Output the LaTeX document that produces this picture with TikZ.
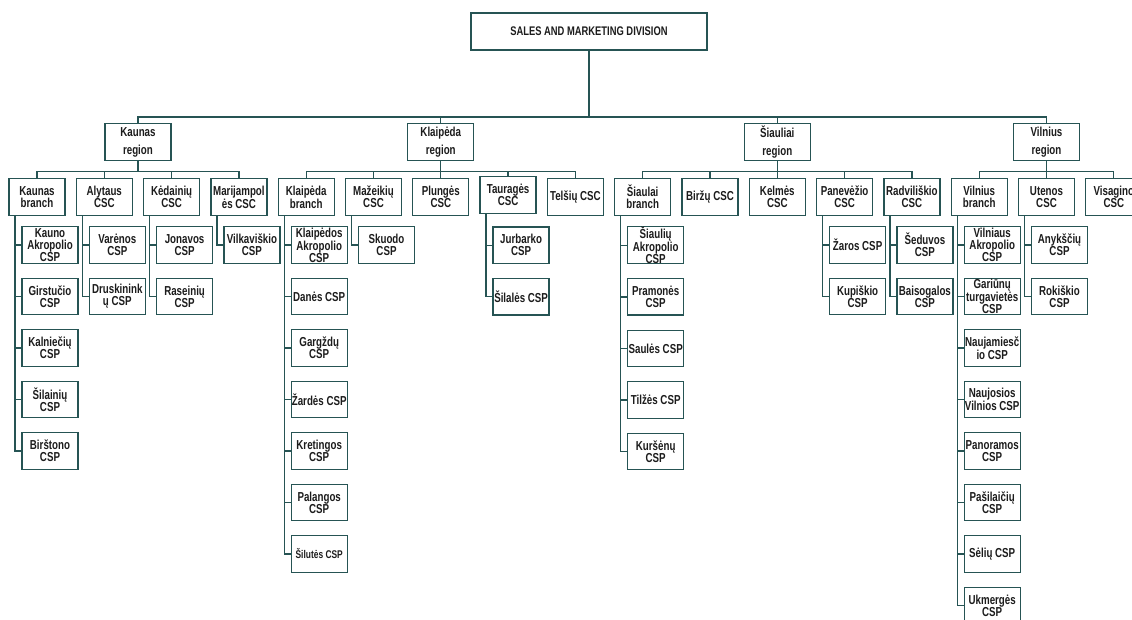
\documentclass[tikz,border=0pt]{standalone}
\usepackage{fontspec}
\setmainfont{Liberation Sans}[FakeStretch=0.75]
\usetikzlibrary{positioning}
\definecolor{linje}{RGB}{38,84,84}
\definecolor{tekst}{RGB}{28,28,28}

\begin{document}
\begin{tikzpicture}[
    node distance = 15pt and 11.3pt,
    enhet/.style = {rectangle, draw=linje, line width=1.3pt, fill=white,
      minimum width=56pt, minimum height=36.5pt, inner sep=0pt, outer sep=0pt,
      align=center, text=tekst, font=\fontsize{13}{12}\selectfont\bfseries},
    region/.style = {enhet, minimum width=66pt, minimum height=37pt,
      font=\fontsize{13}{17.5}\selectfont\bfseries},
    strek/.style = {draw=linje, line width=1.3pt},
    bus/.style = {to path={-- ++(0,-#1) -| (\tikztotarget)}},
    ned/.style = {to path={|- (\tikztotarget)}}
    ]

  \useasboundingbox (0,0) rectangle (1132pt,-619pt);

  \node[enhet, minimum width=236pt, minimum height=37pt,
    font=\fontsize{12.5}{13}\selectfont\bfseries] (sales) at (589pt,-31.5pt)
    {SALES AND MARKETING DIVISION} ;

  % second level, one row
  \node[enhet] (kb) at (37pt,-197pt) {Kaunas\\branch} ;
  \node[enhet] (aly) [right=of kb] {Alytaus\\CSC} ;
  \node[enhet] (ked) [right=of aly] {Kėdainių\\CSC} ;
  \node[enhet] (mar) [right=of ked] {Marijampol\\ės CSC} ;
  \node[enhet] (klb) [right=of mar] {Klaipėda\\branch} ;
  \node[enhet] (maz) [right=of klb] {Mažeikių\\CSC} ;
  \node[enhet] (plu) [right=of maz] {Plungės\\CSC} ;
  \node[enhet, minimum height=37pt] (tau) [right=of plu, yshift=2pt] {Tauragės\\CSC} ;
  \node[enhet] (tel) [right=of plu, xshift=67.3pt] {Telšių CSC} ;
  \node[enhet] (sb) [right=of tel] {Šiaulai\\branch} ;
  \node[enhet] (bir) [right=of sb] {Biržų CSC} ;
  \node[enhet] (kel) [right=of bir] {Kelmės\\CSC} ;
  \node[enhet] (pan) [right=of kel] {Panevėžio\\CSC} ;
  \node[enhet] (rad) [right=of pan] {Radviliškio\\CSC} ;
  \node[enhet] (vb) [right=of rad] {Vilnius\\branch} ;
  \node[enhet] (ute) [right=of vb] {Utenos\\CSC} ;
  \node[enhet] (vis) [right=of ute] {Visagino\\CSC} ;

  % regions
  \node[region] (kreg) [above=18pt of aly, xshift=33.65pt] {Kaunas\\region} ;
  \node[region] (klreg) [above=18pt of plu] {Klaipėda\\region} ;
  \node[region] (sreg) [above=18pt of kel] {Šiauliai\\region} ;
  \node[region] (vreg) [above=18pt of ute] {Vilnius\\region} ;

  % Kaunas
  \node[enhet] (kb1) [below=11.5pt of kb, xshift=13pt] {Kauno\\Akropolio\\CSP} ;
  \node[enhet] (kb2) [below=of kb1] {Girstučio\\CSP} ;
  \node[enhet] (kb3) [below=of kb2] {Kalniečių\\CSP} ;
  \node[enhet] (kb4) [below=of kb3] {Šilainių\\CSP} ;
  \node[enhet] (kb5) [below=of kb4] {Birštono\\CSP} ;
  \node[enhet] (aly1) [below=11.5pt of aly, xshift=13pt] {Varėnos\\CSP} ;
  \node[enhet] (aly2) [below=of aly1] {Druskinink\\ų CSP} ;
  \node[enhet] (ked1) [below=11.5pt of ked, xshift=13pt] {Jonavos\\CSP} ;
  \node[enhet] (ked2) [below=of ked1] {Raseinių\\CSP} ;
  \node[enhet] (mar1) [below=11.5pt of mar, xshift=13pt] {Vilkaviškio\\CSP} ;

  % Klaipeda
  \node[enhet] (klb1) [below=11.5pt of klb, xshift=13pt] {Klaipėdos\\Akropolio\\CSP} ;
  \node[enhet] (klb2) [below=of klb1] {Danės CSP} ;
  \node[enhet] (klb3) [below=of klb2] {Gargždų\\CSP} ;
  \node[enhet] (klb4) [below=of klb3] {Žardės CSP} ;
  \node[enhet] (klb5) [below=of klb4] {Kretingos\\CSP} ;
  \node[enhet] (klb6) [below=of klb5] {Palangos\\CSP} ;
  \node[enhet, font=\fontsize{11.2}{12}\selectfont\bfseries] (klb7) [below=of klb6] {Šilutės CSP} ;
  \node[enhet] (maz1) [below=11.5pt of maz, xshift=13pt] {Skuodo\\CSP} ;
  \node[enhet] (tau1) [below=13.5pt of tau, xshift=13pt] {Jurbarko\\CSP} ;
  \node[enhet] (tau2) [below=of tau1] {Šilalės CSP} ;

  % Siauliai
  \node[enhet] (sb1) [below=11.5pt of sb, xshift=13pt] {Šiaulių\\Akropolio\\CSP} ;
  \node[enhet] (sb2) [below=of sb1] {Pramonės\\CSP} ;
  \node[enhet] (sb3) [below=of sb2] {Saulės CSP} ;
  \node[enhet] (sb4) [below=of sb3] {Tilžės CSP} ;
  \node[enhet] (sb5) [below=of sb4] {Kuršėnų\\CSP} ;
  \node[enhet] (pan1) [below=11.5pt of pan, xshift=13pt] {Žaros CSP} ;
  \node[enhet] (pan2) [below=of pan1] {Kupiškio\\CSP} ;
  \node[enhet] (rad1) [below=11.5pt of rad, xshift=13pt] {Šeduvos\\CSP} ;
  \node[enhet] (rad2) [below=of rad1] {Baisogalos\\CSP} ;

  % Vilnius
  \node[enhet] (vb1) [below=11.5pt of vb, xshift=13pt] {Vilniaus\\Akropolio\\CSP} ;
  \node[enhet] (vb2) [below=of vb1] {Gariūnų\\turgavietės\\CSP} ;
  \node[enhet] (vb3) [below=of vb2] {Naujamiesč\\io CSP} ;
  \node[enhet] (vb4) [below=of vb3] {Naujosios\\Vilnios CSP} ;
  \node[enhet] (vb5) [below=of vb4] {Panoramos\\CSP} ;
  \node[enhet] (vb6) [below=of vb5] {Pašilaičių\\CSP} ;
  \node[enhet] (vb7) [below=of vb6] {Sėlių CSP} ;
  \node[enhet] (vb8) [below=of vb7] {Ukmergės\\CSP} ;
  \node[enhet] (ute1) [below=11.5pt of ute, xshift=13pt] {Anykščių\\CSP} ;
  \node[enhet] (ute2) [below=of ute1] {Rokiškio\\CSP} ;

  \draw[strek]
  (sales.south) edge[bus=67pt] (kreg.north)
  (sales.south) edge[bus=67pt] (klreg.north)
  (sales.south) edge[bus=67pt] (sreg.north)
  (sales.south) edge[bus=67pt] (vreg.north)

  (kreg.south) edge[bus=11pt] (kb.north)
  (kreg.south) edge[bus=11pt] (aly.north)
  (kreg.south) edge[bus=11pt] (ked.north)
  (kreg.south) edge[bus=11pt] (mar.north)
  (klreg.south) edge[bus=11pt] (klb.north)
  (klreg.south) edge[bus=11pt] (maz.north)
  (klreg.south) edge[bus=11pt] (plu.north)
  (klreg.south) edge[bus=11pt] (tau.north)
  (klreg.south) edge[bus=11pt] (tel.north)
  (sreg.south) edge[bus=11pt] (sb.north)
  (sreg.south) edge[bus=11pt] (bir.north)
  (sreg.south) edge[bus=11pt] (kel.north)
  (sreg.south) edge[bus=11pt] (pan.north)
  (sreg.south) edge[bus=11pt] (rad.north)
  (vreg.south) edge[bus=11pt] (vb.north)
  (vreg.south) edge[bus=11pt] (ute.north)
  (vreg.south) edge[bus=11pt] (vis.north)

  ([xshift=6pt]kb.south west) edge[ned] (kb1.west) edge[ned] (kb2.west)
    edge[ned] (kb3.west) edge[ned] (kb4.west) edge[ned] (kb5.west)
  ([xshift=6pt]aly.south west) edge[ned] (aly1.west) edge[ned] (aly2.west)
  ([xshift=6pt]ked.south west) edge[ned] (ked1.west) edge[ned] (ked2.west)
  ([xshift=6pt]mar.south west) edge[ned] (mar1.west)

  ([xshift=6pt]klb.south west) edge[ned] (klb1.west) edge[ned] (klb2.west)
    edge[ned] (klb3.west) edge[ned] (klb4.west) edge[ned] (klb5.west)
    edge[ned] (klb6.west) edge[ned] (klb7.west)
  ([xshift=6pt]maz.south west) edge[ned] (maz1.west)
  ([xshift=6pt]tau.south west) edge[ned] (tau1.west) edge[ned] (tau2.west)

  ([xshift=6pt]sb.south west) edge[ned] (sb1.west) edge[ned] (sb2.west)
    edge[ned] (sb3.west) edge[ned] (sb4.west) edge[ned] (sb5.west)
  ([xshift=6pt]pan.south west) edge[ned] (pan1.west) edge[ned] (pan2.west)
  ([xshift=6pt]rad.south west) edge[ned] (rad1.west) edge[ned] (rad2.west)

  ([xshift=6pt]vb.south west) edge[ned] (vb1.west) edge[ned] (vb2.west)
    edge[ned] (vb3.west) edge[ned] (vb4.west) edge[ned] (vb5.west)
    edge[ned] (vb6.west) edge[ned] (vb7.west) edge[ned] (vb8.west)
  ([xshift=6pt]ute.south west) edge[ned] (ute1.west) edge[ned] (ute2.west);
\end{tikzpicture}
\end{document}
